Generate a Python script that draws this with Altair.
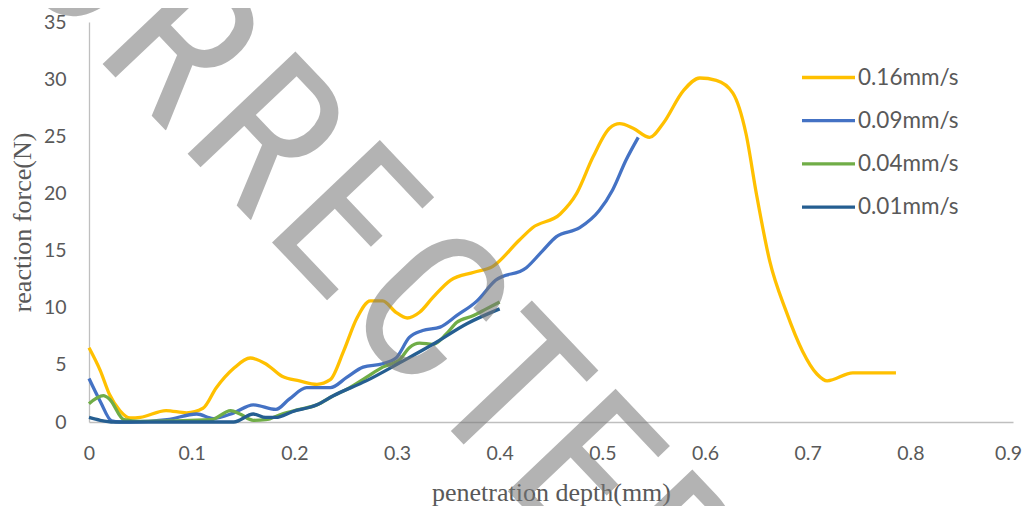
import altair as alt
import pandas as pd
import math

# 0.16 mm/s
x_016 = [0, 0.011, 0.02, 0.03, 0.04, 0.05, 0.075, 0.095, 0.111, 0.124, 0.141, 0.157, 0.172,
         0.188, 0.205, 0.222, 0.235, 0.248, 0.261, 0.274, 0.286, 0.299, 0.31, 0.322, 0.335,
         0.352, 0.375, 0.393, 0.419, 0.432, 0.459, 0.475, 0.491, 0.507, 0.517, 0.53, 0.546,
         0.559, 0.579, 0.595, 0.611, 0.627, 0.64, 0.65, 0.663, 0.679, 0.695, 0.709, 0.719,
         0.744, 0.786]
y_016 = [6.5, 4.5, 2.4, 1.0, 0.35, 0.4, 1.0, 0.8, 1.2, 3.0, 4.7, 5.6, 5.1,
         4.0, 3.6, 3.3, 3.7, 6.2, 9.1, 10.6, 10.6, 9.6, 9.1, 9.6, 10.9,
         12.4, 13.1, 13.6, 15.9, 17.0, 18.2, 20.0, 23.2, 25.7, 26.1, 25.7, 24.9,
         26.1, 29.0, 30.1, 29.9, 28.8, 25.2, 20.0, 14.1, 9.7, 6.2, 4.2, 3.6,
         4.3, 4.3]

# 0.09 mm/s
x_009 = [0, 0.011, 0.022, 0.03, 0.04, 0.076, 0.105, 0.121, 0.141, 0.16, 0.182, 0.195, 0.212,
         0.235, 0.251, 0.267, 0.286, 0.299, 0.312, 0.325, 0.342, 0.358, 0.378, 0.396, 0.426,
         0.442, 0.455, 0.478, 0.497, 0.51, 0.523, 0.535]
y_009 = [3.8, 1.8, 0.1, 0.0, 0.0, 0.2, 0.7, 0.3, 0.8, 1.5, 1.1, 2.0, 3.0,
         3.0, 3.9, 4.8, 5.1, 5.6, 7.4, 8.0, 8.3, 9.3, 10.6, 12.4, 13.5,
         15.0, 16.2, 17.0, 18.5, 20.3, 22.9, 24.9]

# 0.04 mm/s
x_004 = [0, 0.014, 0.02, 0.034, 0.05, 0.119, 0.138, 0.147, 0.16, 0.172, 0.188, 0.205, 0.222,
         0.238, 0.254, 0.27, 0.286, 0.303, 0.312, 0.322, 0.335, 0.348, 0.358, 0.374, 0.387, 0.4]
y_004 = [1.6, 2.3, 2.0, 0.2, 0.05, 0.2, 1.0, 0.7, 0.15, 0.2, 0.7, 1.1, 1.5,
         2.3, 3.0, 3.9, 4.8, 5.5, 6.5, 6.9, 6.8, 7.7, 8.7, 9.3, 9.9, 10.5]

# 0.01 mm/s
x_001 = [0, 0.011, 0.024, 0.134, 0.141, 0.16, 0.172, 0.182, 0.198, 0.222, 0.238, 0.27, 0.303,
         0.335, 0.368, 0.4]
y_001 = [0.4, 0.15, 0.0, 0.0, 0.0, 0.7, 0.4, 0.4, 0.9, 1.5, 2.3, 3.6, 5.2,
         6.8, 8.6, 9.9]

series = ["0.16mm/s", "0.09mm/s", "0.04mm/s", "0.01mm/s"]
colors = ["#FFC000", "#4472C4", "#70AD47", "#255E91"]
x_ticks = [0, 0.1, 0.2, 0.3, 0.4, 0.5, 0.6, 0.7, 0.8, 0.9]
y_ticks = [0, 5, 10, 15, 20, 25, 30, 35]

# watermark text
wm_letters = list("CORRECTED")

rows = []
for name, xs, ys in zip(series, [x_016, x_009, x_004, x_001], [y_016, y_009, y_004, y_001]):
    for i, (a, b) in enumerate(zip(xs, ys)):
        rows.append({"series": name, "depth": a, "force": b, "idx": i})
df = pd.DataFrame(rows)

W, H = 924, 400
TXT = "#595959"
SANS = "Lato"
SERIF = "Liberation Serif"

lines = alt.Chart(df).mark_line(interpolate="monotone", strokeWidth=3.3, clip=False).encode(
    x=alt.X("depth:Q",
            scale=alt.Scale(domain=[0, 0.9], nice=False, zero=False),
            axis=alt.Axis(values=x_ticks, format="~g", title="penetration depth(mm)",
                          grid=False, ticks=False, domainColor="#BFBFBF", domainWidth=1.3,
                          labelFlush=False,
                          labelOffset={"condition": {"test": "datum.value >= 0.85", "value": -5},
                                       "value": 0},
                          labelFont=SANS, labelFontSize=19.5, labelColor=TXT, labelPadding=22,
                          titleFont=SERIF, titleFontSize=26, titleFontWeight="normal",
                          titleColor=TXT, titleY=70.5, titleBaseline="middle")),
    y=alt.Y("force:Q",
            scale=alt.Scale(domain=[0, 35], nice=False),
            axis=alt.Axis(values=y_ticks, title="reaction force(N)",
                          grid=False, ticks=False, domainColor="#BFBFBF", domainWidth=1.3,
                          labelFlush=False,
                          labelFont=SANS, labelFontSize=19.5, labelColor=TXT, labelPadding=23,
                          titleFont=SERIF, titleFontSize=26, titleFontWeight="normal",
                          titleColor=TXT, titleX=-67, titleY=H / 2, titleAngle=-90,
                          titleAlign="center", titleBaseline="middle")),
    color=alt.Color("series:N",
                    scale=alt.Scale(domain=series, range=colors),
                    sort=series,
                    legend=alt.Legend(title=None, orient="none", legendX=711, legendY=27,
                                      symbolType="stroke", symbolSize=2809,
                                      symbolStrokeWidth=3.3, labelOffset=1,
                                      labelFont=SANS, labelFontSize=22.5, labelColor=TXT,
                                      rowPadding=3.2)),
    order=alt.Order("idx:Q"),
)

# watermark: letters placed along a rotated baseline (pixel space)
ang = 46.5
fs = 209
adv = {"C": 0.592, "O": 0.638, "R": 0.592, "E": 0.547, "T": 0.501, "D": 0.592}
ux, uy = math.cos(math.radians(ang)), math.sin(math.radians(ang))
s = 380.0 - sum(adv[c] for c in wm_letters) * fs / 2
wm_rows = []
for c in wm_letters:
    a = adv[c] * fs
    sc = s + a / 2
    wm_rows.append({"ch": c, "px": ux * sc - 67.0, "py": uy * sc - 42.9})
    s += a
wm_df = pd.DataFrame(wm_rows)

watermark = alt.Chart(wm_df).mark_text(
    font="'Roboto Condensed', 'DejaVu Sans Condensed', 'Liberation Sans Narrow', 'Liberation Sans'",
    fontSize=fs, angle=ang, align="center",
    baseline="alphabetic", color="#767676", opacity=0.55
).encode(
    x=alt.X("px:Q", scale=None), y=alt.Y("py:Q", scale=None), text="ch:N"
)

chart = alt.layer(lines, watermark).properties(
    width=W, height=H,
    autosize=alt.AutoSizeParams(type="none"),
    padding={"left": 81, "top": 14, "right": 11, "bottom": 84},
).configure_view(stroke=None)

chart.save("out.html", embed_options={"renderer": "svg", "actions": False})
